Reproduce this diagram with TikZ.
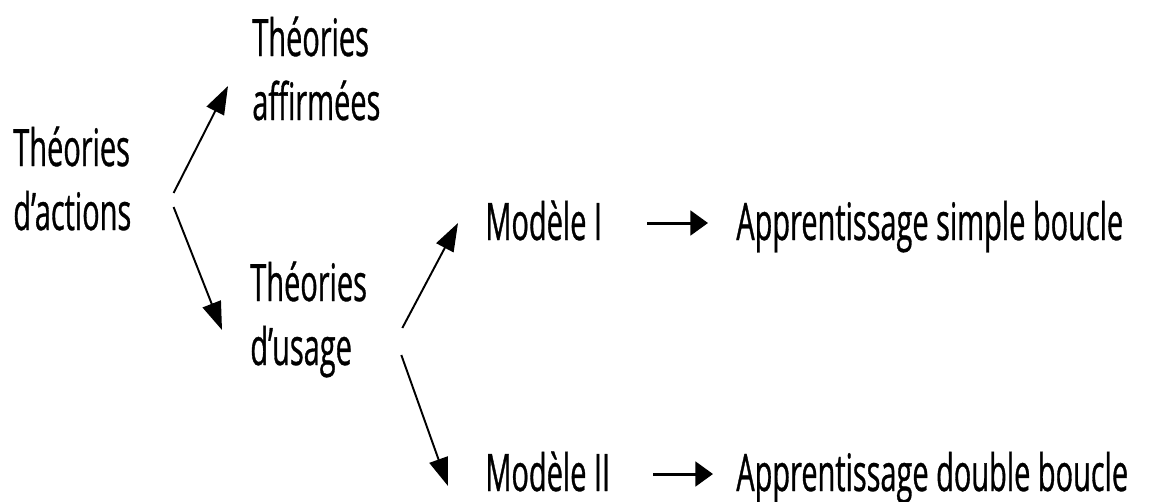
\documentclass[tikz,border=0pt]{standalone}
\usepackage{fontspec}
\setmainfont{Open Sans}[FakeStretch=0.56,FakeBold=0.6]
\usepackage{tikz}
\usetikzlibrary{arrows.meta,positioning,calc}
\tikzset{
  lbl/.style={inner sep=0pt, anchor=base west, align=left,
    font=\fontsize{29.4}{36.4}\selectfont},
  arrD/.style={line width=1.1pt, -{Triangle[length=16pt,width=11pt]}},
  arrH/.style={line width=1.7pt, -{Triangle[length=10pt,width=14pt]}}
}

\begin{document}
\begin{tikzpicture}[x=0.02cm,y=-0.02cm]
\useasboundingbox (0,0) rectangle (1151,501);
% theories
\node[lbl] (act) at (13,230) {Théories\\d’actions};
\node[lbl] (aff) at (252,120) {Théories\\affirmées};
\node[lbl] (usg) at (250,365) {Théories\\d’usage};
% modeles et apprentissages
\node[lbl] (mA) at (485,240) {Modèle I};
\node[lbl] (mB) at (485,491) {Modèle II};
\node[lbl] (apA) at (736,240) {Apprentissage simple boucle};
\node[lbl] (apB) at (736,491) {Apprentissage double boucle};
% fleches
\draw[arrD] ($(act.base east)+(42,-37)$) -- ($(aff.base west)+(-24,-34)$);
\draw[arrD] ($(act.base east)+(42,-23)$) -- ($(usg.base west)+(-28,-35)$);
\draw[arrD] ($(usg.base east)+(35,-37)$) -- ($(mA.base west)+(-27,-17)$);
\draw[arrD] ($(usg.base east)+(34,-10)$) -- ($(mB.base west)+(-37,-5)$);
\draw[arrH] ($(mA.base east)+(45,-17)$) -- ($(apA.base west)+(-28,-17)$);
\draw[arrH] ($(mB.base east)+(43,-17)$) -- ($(apB.base west)+(-23,-17)$);
\end{tikzpicture}
\end{document}
